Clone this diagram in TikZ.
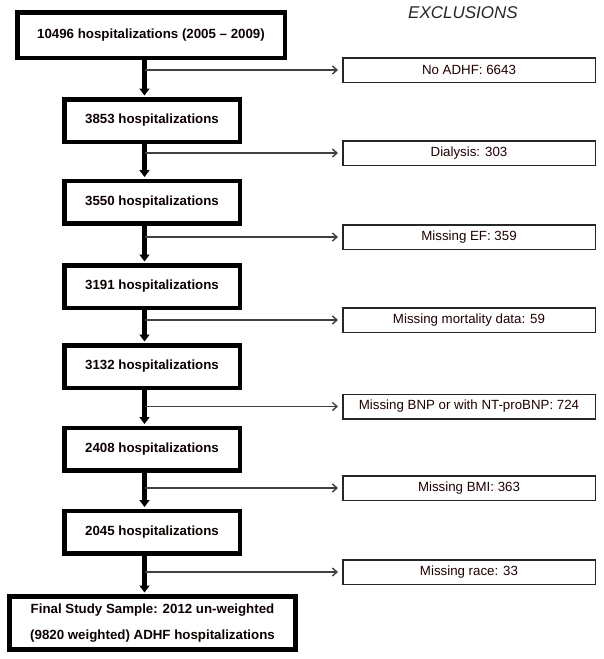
\documentclass[tikz,border=0pt]{standalone}
\usepackage{fontspec}
\setmainfont{Liberation Sans}
\usetikzlibrary{arrows.meta}
\begin{document}
\begin{tikzpicture}[x=1pt,y=-1pt,
  mainbox/.style={draw=black,line width=4.5pt,fill=white,inner sep=0pt,
    minimum width=175.5pt,minimum height=42.5pt,
    font=\fontsize{13.3}{16}\selectfont\bfseries,text=black!95!red},
  exbox/.style={draw=black!85,line width=1.5pt,fill=white,inner sep=0pt,
    minimum width=252.5pt,minimum height=24.5pt,
    font=\fontsize{13.3}{16}\selectfont,text=black!88!red},
  flow/.style={line width=5pt,-{Triangle[width=10pt,length=7pt]},shorten >=1.5pt},
  exarrow/.style={line width=1.3pt,draw=black!75,-{Straight Barb[length=4.5pt,width=8pt,line width=1.4pt]},shorten >=4pt}
]
\useasboundingbox (0,0) rectangle (604,659);
\coordinate (spine) at (144.5,0);

\node[font=\fontsize{17}{20}\selectfont\itshape,text=black!85] (title) at (463,13) {EXCLUSIONS};

\node[mainbox,minimum width=267.5pt,minimum height=45.5pt] (m0) at (151,35) {10496 hospitalizations (2005 -- 2009)};
\node[mainbox] (m1) at (152,120.5) {3853 hospitalizations};
\node[mainbox] (m2) at (152,202) {3550 hospitalizations};
\node[mainbox] (m3) at (152,286.5) {3191 hospitalizations};
\node[mainbox] (m4) at (152,366.5) {3132 hospitalizations};
\node[mainbox] (m5) at (152,449) {2408 hospitalizations};
\node[mainbox] (m6) at (152,532) {2045 hospitalizations};
\node[mainbox,line width=5pt,minimum width=286pt,minimum height=53pt,align=center,
  font=\fontsize{13.3}{26}\selectfont\bfseries] (m7) at (152.5,623)
  {Final Study Sample: 2012 un-weighted\\(9820 weighted) ADHF hospitalizations};

\node[exbox] (e1) at (469,70) {No ADHF: 6643};
\node[exbox] (e2) at (469,153) {Dialysis: 303};
\node[exbox] (e3) at (469,237) {Missing EF: 359};
\node[exbox] (e4) at (469,320) {Missing mortality data: 59};
\node[exbox] (e5) at (469,406.5) {Missing BNP or with NT-proBNP: 724};
\node[exbox] (e6) at (469,488) {Missing BMI: 363};
\node[exbox] (e7) at (469,572) {Missing race: 33};

\foreach \a/\b in {m0/m1,m1/m2,m2/m3,m3/m4,m4/m5,m5/m6,m6/m7}{
  \draw[flow] (\a.south -| spine) -- (\b.north -| spine);
}
\foreach \e in {e1,e2,e3,e4,e5,e6,e7}{
  \draw[exarrow] (\e.west -| spine) -- (\e.west);
}
\end{tikzpicture}
\end{document}
